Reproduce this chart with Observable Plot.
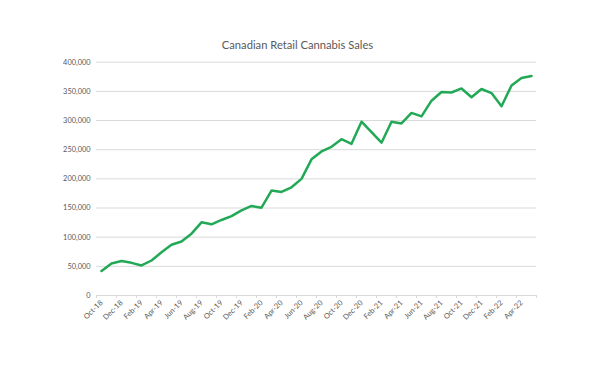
<!DOCTYPE html>
<html>
<head>
<meta charset="utf-8">
<script src="https://cdn.jsdelivr.net/npm/d3@7"></script>
<script src="https://cdn.jsdelivr.net/npm/@observablehq/plot@0.6"></script>
<style>
  html, body { margin: 0; padding: 0; background: #fff; }
  #chart { width: 600px; height: 386px; }
</style>
</head>
<body>
<div id="chart"></div>
<script>
const title = "Canadian Retail Cannabis Sales";

const months = [
  "Oct-18","Nov-18","Dec-18","Jan-19","Feb-19","Mar-19","Apr-19","May-19","Jun-19","Jul-19","Aug-19","Sep-19",
  "Oct-19","Nov-19","Dec-19","Jan-20","Feb-20","Mar-20","Apr-20","May-20","Jun-20","Jul-20","Aug-20","Sep-20",
  "Oct-20","Nov-20","Dec-20","Jan-21","Feb-21","Mar-21","Apr-21","May-21","Jun-21","Jul-21","Aug-21","Sep-21",
  "Oct-21","Nov-21","Dec-21","Jan-22","Feb-22","Mar-22","Apr-22","May-22"
];

const sales = [
  42000, 55000, 59000, 56000, 51500, 60000, 74000, 87000, 92500, 106000, 125500, 122000,
  129500, 136000, 146000, 153500, 150500, 180000, 177500, 185500, 200000, 233500, 247000, 255000,
  268000, 260000, 298000, 280000, 262000, 298000, 295000, 313000, 307000, 334000, 349000, 348000,
  355000, 340000, 354000, 347000, 324500, 360000, 373000, 376500
];

const yTicks = [0, 50000, 100000, 150000, 200000, 250000, 300000, 350000, 400000];
const xTickLabels = months.filter((m, i) => i % 2 === 0);

const data = months.map((m, i) => ({month: m, value: sales[i]}));

const font = "Lato, 'Open Sans', sans-serif";
const labelColor = "#595959";
const gridColor = "#d9d9d9";

const plot = Plot.plot({
  width: 600,
  height: 386,
  marginLeft: 96,
  marginRight: 64,
  marginTop: 61.7,
  marginBottom: 91,
  style: {fontFamily: font, fontSize: "7px", color: labelColor, background: "#fff"},
  x: {type: "point", domain: months, padding: 0.5},
  y: {domain: [0, 400000]},
  marks: [
    Plot.ruleY(yTicks, {stroke: gridColor, strokeWidth: 1}),
    // small tick marks at category boundaries
    Plot.axisX({ticks: xTickLabels, tickSize: 3, dx: -5, tickFormat: () => "", stroke: gridColor, label: null}),
    Plot.axisX({ticks: [months[months.length - 1]], tickSize: 3, dx: 5, tickFormat: () => "", stroke: gridColor, label: null}),
    Plot.axisY({ticks: yTicks, tickSize: 0, tickPadding: 6, tickFormat: d3.format(","), fill: labelColor, fontSize: 7.4, label: null}),
    Plot.axisX({ticks: xTickLabels, tickSize: 0, tickPadding: 6, tickRotate: -45, fill: labelColor, fontSize: 7.4, label: null}),
    Plot.line(data, {x: "month", y: "value", stroke: "#22a956", strokeWidth: 2.5, strokeLinejoin: "round", strokeLinecap: "round"}),
    Plot.text([title], {frameAnchor: "top", dx: -19, dy: -21, text: d => d, fontSize: 11.2, fill: labelColor, fontFamily: font})
  ]
});

document.getElementById("chart").appendChild(plot);
</script>
</body>
</html>
